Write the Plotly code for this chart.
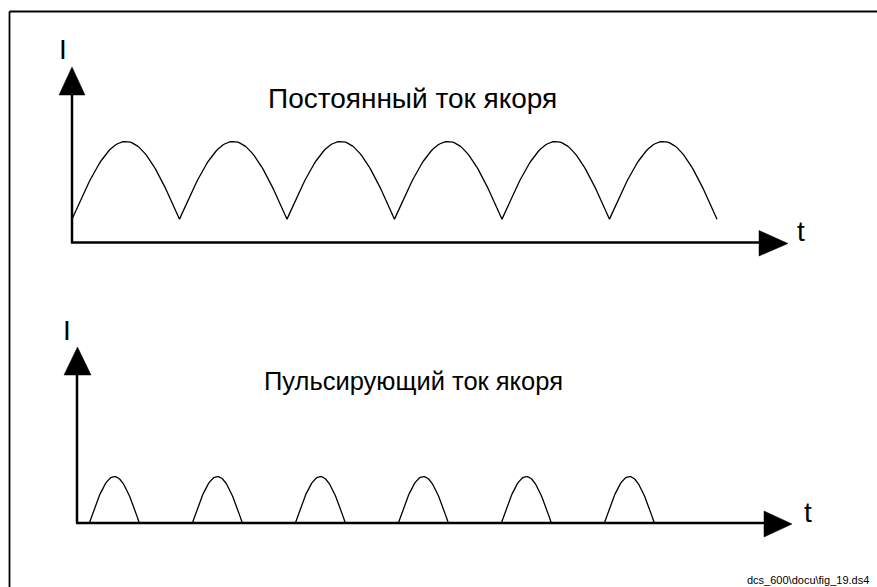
import numpy as np
import plotly.graph_objects as go

W, H = 877, 587

# ---- data ----
# Upper plot: full-wave rectified armature current, 6 arches
dc_arch_peaks = [1.0, 1.0, 1.0, 1.0, 1.0, 1.0]   # peak current of each arch
dc_arch_troughs = [0.23, 0.23, 0.23, 0.23, 0.23, 0.23, 0.23]  # current at arch boundaries
dc_arch_starts = [0, 1, 2, 3, 4, 5]               # start time of each arch (half-periods)

# Lower plot: pulsating armature current, 6 separated pulses
pulse_peaks = [0.46, 0.46, 0.46, 0.46, 0.46, 0.46]
pulse_starts = [0.12, 1.12, 2.12, 3.12, 4.12, 5.12]
pulse_width = 0.485

title_top = "Постоянный ток якоря"
title_bottom = "Пульсирующий ток якоря"
axis_y_label = "I"
axis_x_label = "t"
footer = "dcs_600\\docu\\fig_19.ds4"

# ---- build curves ----
def arch(t0, t1, lo_a, lo_b, hi, n=60):
    s = np.linspace(0, 1, n)
    base = lo_a + (lo_b - lo_a) * s
    return t0 + (t1 - t0) * s, base + (hi - base) * np.sin(np.pi * s)

tx, ty = [], []
for k, t0 in enumerate(dc_arch_starts):
    x, y = arch(t0, t0 + 1, dc_arch_troughs[k], dc_arch_troughs[k + 1], dc_arch_peaks[k])
    tx += list(x); ty += list(y)

bx, by = [], []
for t0, pk in zip(pulse_starts, pulse_peaks):
    x, y = arch(t0, t0 + pulse_width, 0, 0, pk)
    bx += list(x) + [None]; by += list(y) + [None]

fig = go.Figure()
fig.add_trace(go.Scatter(x=tx, y=ty, mode="lines", line=dict(color="black", width=1.3),
                         xaxis="x", yaxis="y", showlegend=False, hoverinfo="skip"))
fig.add_trace(go.Scatter(x=bx, y=by, mode="lines", line=dict(color="black", width=1.3),
                         xaxis="x2", yaxis="y2", showlegend=False, hoverinfo="skip"))

# axis scales (pixels per unit, origin pixel positions)
top_ox, top_oy, top_sx, top_sy = 72, 242.5, 107.5, 101
bot_ox, bot_oy, bot_sx, bot_sy = 77, 523, 103, 101

def ax_rng(o, s, total):
    return [-o / s, (total - o) / s]

hidden = dict(visible=False, showgrid=False, zeroline=False, fixedrange=True)
fig.update_layout(
    width=W, height=H,
    margin=dict(l=0, r=0, t=0, b=0),
    paper_bgcolor="white", plot_bgcolor="white",
    xaxis=dict(domain=[0, 1], range=ax_rng(top_ox, top_sx, W), **hidden),
    yaxis=dict(domain=[0, 1], range=[-(H - top_oy) / top_sy, top_oy / top_sy], **hidden),
    xaxis2=dict(domain=[0, 1], range=ax_rng(bot_ox, bot_sx, W), overlaying="x", anchor="y2", **hidden),
    yaxis2=dict(domain=[0, 1], range=[-(H - bot_oy) / bot_sy, bot_oy / bot_sy], overlaying="y", anchor="x2", **hidden),
    font=dict(family="Liberation Sans, Arial, sans-serif", color="black"),
)

def px(x): return x / W
def py(y): return 1 - y / H

shapes = []
def line(x0, y0, x1, y1, w=2.5):
    shapes.append(dict(type="line", xref="paper", yref="paper",
                       x0=px(x0), y0=py(y0), x1=px(x1), y1=py(y1),
                       line=dict(color="black", width=w)))
def tri(pts):
    path = "M " + " L ".join(f"{px(a)},{py(b)}" for a, b in pts) + " Z"
    shapes.append(dict(type="path", xref="paper", yref="paper", path=path,
                       fillcolor="black", line=dict(color="black", width=0.5)))

# frame
line(9.5, 11.5, W + 2, 11.5, 1.8)
line(9.5, 11.5, 9.5, H + 2, 1.8)

# top axes
line(top_ox, top_oy, top_ox, 92)
tri([(59, 95), (85, 95), (72, 67)])
line(top_ox - 1, top_oy, 762, top_oy)
tri([(759, 230.5), (759, 256), (788, 243.5)])

# bottom axes
line(bot_ox, bot_oy, bot_ox, 372)
tri([(64, 375), (91, 375), (77.5, 347)])
line(bot_ox - 1, bot_oy, 767, bot_oy)
tri([(764, 511), (764, 537), (792, 524)])

fig.update_layout(shapes=shapes)

ann = []
def text(x, y, s, size, xanchor="center"):
    ann.append(dict(x=px(x), y=py(y), xref="paper", yref="paper", text=s, showarrow=False,
                    xanchor=xanchor, yanchor="middle", font=dict(size=size, color="black")))

text(412, 98, title_top, 28)
text(413, 381, title_bottom, 25.5)
text(63, 50, axis_y_label, 28)
text(67, 330, axis_y_label, 28)
text(801, 232, axis_x_label, 28)
text(808, 512, axis_x_label, 28)
text(871, 580, footer, 11, xanchor="right")
fig.update_layout(annotations=ann)

fig.write_html(
    "out.html",
    config={"displayModeBar": False},
    post_script="document.body.style.margin='0';document.body.style.overflow='hidden';",
)
